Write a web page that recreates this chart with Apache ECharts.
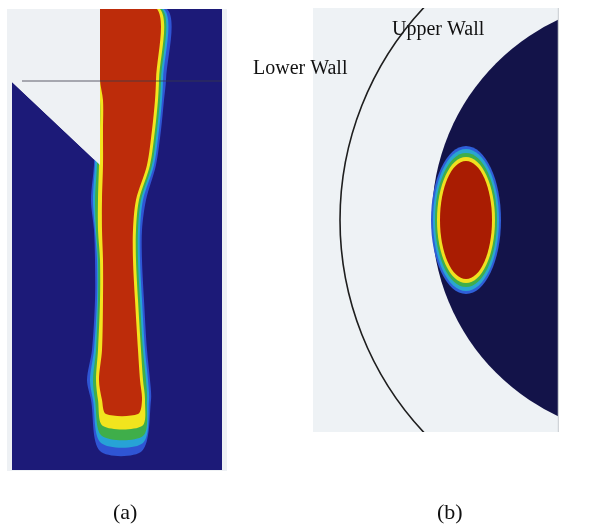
<!DOCTYPE html>
<html>
<head>
<meta charset="utf-8">
<script src="https://cdn.jsdelivr.net/npm/echarts@6/dist/echarts.min.js"></script>
<style>
  html, body { margin: 0; padding: 0; background: #fff; }
  #main { width: 589px; height: 529px; }
</style>
</head>
<body>
<div id="main"></div>
<script>
// (a) plume contour edges, all levels sampled at the same heights
var plumeY      = [9, 80, 100, 130, 165, 200, 230, 260, 300, 350, 380, 400];
var blueLeft    = [94, 94, 97, 95, 94, 91, 94, 95, 95, 92, 87, 91];
var blueRight   = [167, 166, 164, 161, 156, 146, 142, 142, 144, 147, 150, 151];
var cyanLeft    = [95, 95, 98, 97, 95, 93, 95, 97, 97, 94, 90, 93];
var cyanRight   = [164, 163, 162, 159, 154, 143, 140, 140, 142, 145, 148, 149];
var greenLeft   = [96, 96, 99, 98, 97, 95, 96, 98, 98, 96, 93, 95];
var greenRight  = [162, 161, 160, 157, 152, 141, 138, 138, 140, 143, 146, 147];
var yellowLeft  = [97, 97, 100, 100, 99, 98, 98, 100, 100, 98, 96, 98];
var yellowRight = [160, 159, 158, 155, 150, 139, 136, 136, 138, 141, 143, 145];
var redLeft     = [100, 100, 103, 103, 103, 102, 102, 103, 103, 102, 99, 102];
var redRight    = [157, 156, 155, 152, 147, 136, 133, 133, 135, 138, 140, 142];
// bottom of each level: blue, cyan, green, yellow, red
var plumeTipY   = [451, 443, 436, 426, 414];
var plumeTipX   = [[100, 142], [101, 143], [102, 143], [103, 142], [106, 138]];

// (a) channel outline
var channelA = [[12, 82], [100, 165], [100, 9], [222, 9], [222, 470], [12, 470]];
var wedgeA   = [[7, 9], [100, 9], [100, 165], [12, 82], [7, 82]];
var lineA    = [[22, 81], [222, 81]];

// (b) cross section
var diskCenter = [651, 218], diskRadius = 219;
var wallCenter = [651, 220], wallRadius = 311;
var dropCenter = [466, 220];
var dropRx = [35, 33, 31, 29, 26];
var dropRy = [74, 71, 67, 63, 59];

var levelColors = ['#2f55d4', '#27a3d6', '#3fae4a', '#f2e41e', '#bd2c0a'];
var dropColors  = ['#2f5fd8', '#2aa6d0', '#3fae4a', '#f0e020', '#a91c02'];

var plumeLeft  = [blueLeft, cyanLeft, greenLeft, yellowLeft, redLeft];
var plumeRight = [blueRight, cyanRight, greenRight, yellowRight, redRight];

var myChart = echarts.init(document.getElementById('main'));

function toPx(api, pts) {
  return pts.map(function (p) { return api.coord(p); });
}

function renderA(params, api) {
  var children = [];
  children.push({
    type: 'polygon',
    shape: { points: toPx(api, channelA) },
    style: { fill: '#1c1a78' }
  });
  for (var i = 0; i < plumeLeft.length; i++) {
    var pts = [];
    for (var j = 0; j < plumeY.length; j++) pts.push([plumeLeft[i][j], plumeY[j]]);
    pts.push([plumeTipX[i][0], plumeTipY[i]]);
    pts.push([plumeTipX[i][1], plumeTipY[i]]);
    for (var k = plumeY.length - 1; k >= 0; k--) pts.push([plumeRight[i][k], plumeY[k]]);
    children.push({
      type: 'polygon',
      shape: { points: toPx(api, pts), smooth: 0.3 },
      style: { fill: levelColors[i] }
    });
  }
  children.push({
    type: 'polygon',
    shape: { points: toPx(api, wedgeA) },
    style: { fill: '#eef1f4' }
  });
  var l = toPx(api, lineA);
  children.push({
    type: 'line',
    shape: { x1: l[0][0], y1: l[0][1], x2: l[1][0], y2: l[1][1] },
    style: { stroke: '#3a3a4a', lineWidth: 1, opacity: 0.8 }
  });
  return { type: 'group', children: children };
}

function renderB(params, api) {
  var children = [];
  var c = api.coord(diskCenter);
  children.push({
    type: 'circle',
    shape: { cx: c[0], cy: c[1], r: api.size([diskRadius, 0])[0] },
    style: { fill: '#131349' }
  });
  var d = api.coord(dropCenter);
  for (var i = 0; i < dropRx.length; i++) {
    children.push({
      type: 'ellipse',
      shape: { cx: d[0], cy: d[1], rx: api.size([dropRx[i], 0])[0], ry: api.size([0, dropRy[i]])[1] },
      style: { fill: dropColors[i] }
    });
  }
  var w = api.coord(wallCenter);
  children.push({
    type: 'circle',
    shape: { cx: w[0], cy: w[1], r: api.size([wallRadius, 0])[0] },
    style: { fill: 'none', stroke: '#1e1e1e', lineWidth: 1.6 }
  });
  var t = api.coord([558.5, 8]), b = api.coord([558.5, 432]);
  children.push({
    type: 'line',
    shape: { x1: t[0], y1: t[1], x2: b[0], y2: b[1] },
    style: { stroke: '#d0d4d8', lineWidth: 1.5 }
  });
  return { type: 'group', children: children };
}

var option = {
  animation: false,
  backgroundColor: '#fff',
  grid: [
    { left: 7, top: 9, width: 220, height: 462, show: true, backgroundColor: '#eef1f4', borderWidth: 0 },
    { left: 313, top: 8, width: 246, height: 424, show: true, backgroundColor: '#eef2f5', borderWidth: 0 }
  ],
  xAxis: [
    { type: 'value', gridIndex: 0, min: 7, max: 227, show: false },
    { type: 'value', gridIndex: 1, min: 313, max: 559, show: false }
  ],
  yAxis: [
    { type: 'value', gridIndex: 0, min: 9, max: 471, inverse: true, show: false },
    { type: 'value', gridIndex: 1, min: 8, max: 432, inverse: true, show: false }
  ],
  series: [
    { type: 'custom', xAxisIndex: 0, yAxisIndex: 0, clip: true, silent: true, data: [[117, 240]], renderItem: renderA },
    { type: 'custom', xAxisIndex: 1, yAxisIndex: 1, clip: true, silent: true, data: [[436, 220]], renderItem: renderB }
  ],
  graphic: [
    { type: 'text', left: 392, top: 20, style: { text: 'Upper Wall', font: '20px "Liberation Serif"', fill: '#111' } },
    { type: 'text', left: 253, top: 59, style: { text: 'Lower Wall', font: '20px "Liberation Serif"', fill: '#111' } },
    { type: 'text', left: 113, top: 502, style: { text: '(a)', font: '22px "Liberation Serif"', fill: '#111' } },
    { type: 'text', left: 437, top: 502, style: { text: '(b)', font: '22px "Liberation Serif"', fill: '#111' } }
  ]
};

myChart.setOption(option);
</script>
</body>
</html>
